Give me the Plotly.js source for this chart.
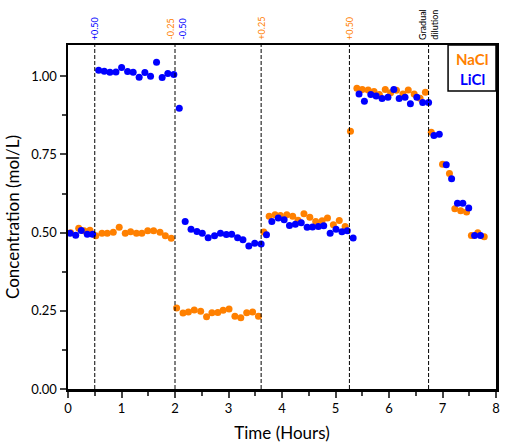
<!DOCTYPE html>
<html>
<head>
<meta charset="utf-8">
<script src="https://cdn.plot.ly/plotly-3.0.1.min.js"></script>
<style>html,body{margin:0;padding:0;background:#fff}#chart{width:507px;height:444px}</style>
</head>
<body>
<div id="chart"></div>
<script>
// NaCl (orange) data
const naclTime = [0.05,0.20,0.30,0.41,0.52,0.635,0.734,0.846,0.957,1.07,1.17,1.28,1.38,1.49,1.60,1.72,1.82,1.93,
  2.03,2.15,2.25,2.36,2.48,2.59,2.69,2.80,2.90,3.01,3.12,3.23,3.34,3.45,3.56,
  3.66,3.76,3.87,3.97,4.09,4.20,4.30,4.41,4.52,4.63,4.75,4.85,4.96,5.07,5.18,
  5.28,5.40,5.50,5.61,5.72,5.82,5.93,6.03,6.14,6.26,6.36,6.47,6.58,6.68,
  6.79,7.00,7.13,7.23,7.34,7.45,7.54,7.66,7.78];
const naclConc = [0.50,0.514,0.506,0.508,0.49,0.498,0.498,0.501,0.517,0.498,0.503,0.498,0.498,0.506,0.506,0.501,0.49,0.482,
  0.259,0.243,0.246,0.253,0.249,0.231,0.244,0.245,0.252,0.256,0.233,0.228,0.244,0.246,0.233,
  0.502,0.552,0.557,0.555,0.557,0.552,0.54,0.56,0.549,0.536,0.538,0.547,0.525,0.539,0.52,
  0.824,0.962,0.958,0.956,0.951,0.942,0.958,0.947,0.955,0.943,0.956,0.943,0.930,0.949,
  0.821,0.719,0.689,0.576,0.570,0.566,0.491,0.50,0.487];
// LiCl (blue) data
const liclTime = [0.037,0.144,0.248,0.36,0.46,
  0.573,0.678,0.784,0.896,1.002,1.114,1.218,1.33,1.437,1.543,1.655,1.76,1.866,1.978,2.08,
  2.19,2.30,2.41,2.51,2.62,2.739,2.85,2.96,3.06,3.17,3.27,3.38,3.49,3.61,3.71,
  3.81,3.93,4.04,4.14,4.25,4.36,4.47,4.57,4.68,4.78,4.90,5.01,5.12,5.22,5.33,
  5.44,5.54,5.66,5.76,5.87,5.98,6.09,6.19,6.30,6.40,6.52,6.63,6.74,
  6.84,6.94,7.07,7.17,7.28,7.38,7.49,7.60,7.71];
const liclConc = [0.498,0.492,0.507,0.495,0.495,
  1.019,1.016,1.013,1.014,1.028,1.015,1.013,0.997,1.012,1.0,1.045,0.996,1.009,1.006,0.898,
  0.536,0.511,0.504,0.498,0.484,0.49,0.498,0.494,0.495,0.484,0.477,0.457,0.466,0.464,0.493,
  0.536,0.547,0.541,0.523,0.527,0.532,0.517,0.518,0.52,0.522,0.498,0.511,0.503,0.506,0.483,
  0.943,0.92,0.942,0.937,0.929,0.933,0.958,0.929,0.933,0.912,0.933,0.916,0.916,
  0.811,0.815,0.717,0.672,0.594,0.594,0.579,0.491,0.491];
// step events (vertical dashed lines) and labels
const eventTimes = [0.5, 2.0, 3.61, 5.26, 6.74];
const eventLabels = [
  [{text:'+0.50', color:'#0000ff', shift:0}],
  [{text:'-0.25', color:'#ff8000', shift:-5}, {text:'-0.50', color:'#0000ff', shift:7}],
  [{text:'+0.25', color:'#ff8000', shift:0}],
  [{text:'+0.50', color:'#ff8000', shift:0}],
  [{text:'Gradual<br>dilution', color:'#000000', shift:0}]
];
const seriesNames = ['NaCl','LiCl'];
const seriesColors = ['#ff8000','#0000ff'];

const FONT = 'Lato, "DejaVu Sans", sans-serif';

const traces = [
  {x: naclTime, y: naclConc, mode:'markers', type:'scatter', name:seriesNames[0],
   marker:{color:seriesColors[0], size:7, symbol:'circle'}, showlegend:false},
  {x: liclTime, y: liclConc, mode:'markers', type:'scatter', name:seriesNames[1],
   marker:{color:seriesColors[1], size:7, symbol:'circle'}, showlegend:false}
];

const shapes = eventTimes.map(t => ({type:'line', xref:'x', yref:'paper', x0:t, x1:t, y0:0, y1:1,
  line:{color:'#000', width:1, dash:'4px,2px'}}));
shapes.push({type:'rect', xref:'paper', yref:'paper', x0:0.888, x1:1, y0:0.866, y1:1,
  line:{color:'#000', width:1.5}, fillcolor:'rgba(0,0,0,0)'});

const annotations = [];
eventTimes.forEach((t,i) => {
  eventLabels[i].forEach(l => {
    annotations.push({x:t, y:1, xref:'x', yref:'paper', text:l.text, showarrow:false,
      textangle:-90, xanchor:'center', yanchor:'bottom', xshift:l.shift, yshift:3,
      font:{family:FONT, size:9, color:l.color}});
  });
});
seriesNames.forEach((n,i) => {
  annotations.push({x:0.944, y: i===0 ? 0.96 : 0.9, xref:'paper', yref:'paper', text:'<b>'+n+'</b>',
    showarrow:false, xanchor:'center', yanchor:'middle', font:{family:FONT, size:15, color:seriesColors[i]}});
});

const layout = {
  width:507, height:444,
  margin:{l:68, r:11, t:45, b:55},
  paper_bgcolor:'#fff', plot_bgcolor:'#fff',
  font:{family:FONT, color:'#000'},
  xaxis:{range:[0,8], tickvals:[0,1,2,3,4,5,6,7,8], ticks:'outside', ticklen:6, tickwidth:2,
    showline:true, linewidth:2.5, linecolor:'#000', mirror:true, showgrid:false, zeroline:false,
    tickfont:{size:13, family:FONT},
    minor:{tickvals:[0.5,1.5,2.5,3.5,4.5,5.5,6.5,7.5], ticks:'outside', ticklen:4, tickwidth:2, showgrid:false},
    title:{text:'Time (Hours)', font:{size:17, family:FONT}, standoff:12}},
  yaxis:{range:[0,1.1], tickvals:[0,0.25,0.5,0.75,1.0], ticktext:['0.00','0.25','0.50','0.75','1.00'],
    ticks:'outside', ticklen:6, tickwidth:2,
    showline:true, linewidth:2.5, linecolor:'#000', mirror:true, showgrid:false, zeroline:false,
    tickfont:{size:13, family:FONT},
    minor:{tickvals:[0.125,0.375,0.625,0.875], ticks:'outside', ticklen:4, tickwidth:2, showgrid:false},
    title:{text:'Concentration (mol/L)', font:{size:17, family:FONT}, standoff:7}},
  shapes:shapes, annotations:annotations
};

Plotly.newPlot('chart', traces, layout, {staticPlot:true, displayModeBar:false});
</script>
</body>
</html>
